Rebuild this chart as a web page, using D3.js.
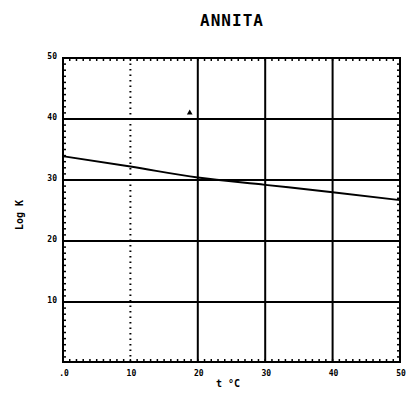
<!DOCTYPE html>
<html>
<head>
<meta charset="utf-8">
<script src="https://cdn.jsdelivr.net/npm/d3@7"></script>
<style>
  html, body { margin: 0; padding: 0; background: #fff; }
  svg { display: block; }
  text { font-family: "DejaVu Sans Mono", monospace; fill: #000; }
</style>
</head>
<body>
<svg id="chart" width="406" height="401"></svg>
<script>
// log K of annite versus temperature
const temperature = [0, 10, 20, 30, 40, 50];
const logK = [33.9, 32.2, 30.4, 29.2, 28.0, 26.7];
const markT = [18.8];
const markLogK = [41.0];
const xTicks = [0, 10, 20, 30, 40, 50];
const yTicks = [10, 20, 30, 40, 50];
const xTickLabels = [".0", "10", "20", "30", "40", "50"];

const svg = d3.select("#chart");
const m = { left: 63, right: 400, top: 58, bottom: 362 };

const x = d3.scaleLinear().domain([0, 50]).range([m.left, m.right]);
const y = d3.scaleLinear().domain([0, 50]).range([m.bottom + 1, m.top]);

// title
svg.append("text").attr("x", 232).attr("y", 26)
  .attr("text-anchor", "middle").attr("font-size", 16).attr("font-weight", "bold")
  .attr("letter-spacing", 1).text("ANNITA");

// grid
const g = svg.append("g").attr("stroke", "#000").attr("stroke-width", 2);
g.selectAll("line.v").data(xTicks.slice(1, -1)).join("line")
  .attr("x1", d => x(d)).attr("x2", d => x(d))
  .attr("y1", m.top).attr("y2", m.bottom)
  .attr("stroke-dasharray", d => d === 10 ? "1.5,4" : null);
g.selectAll("line.h").data(yTicks.slice(0, -1)).join("line")
  .attr("x1", m.left).attr("x2", m.right)
  .attr("y1", d => y(d)).attr("y2", d => y(d));

// frame
g.append("rect").attr("x", m.left).attr("y", m.top)
  .attr("width", m.right - m.left).attr("height", m.bottom - m.top)
  .attr("fill", "none");

// minor ticks along the frame
const minor = d3.range(1, 50);
const tk = svg.append("g").attr("stroke", "#000").attr("stroke-width", 1.5);
tk.selectAll("line.l").data(minor).join("line")
  .attr("x1", m.left).attr("x2", m.left + 3)
  .attr("y1", d => y(d)).attr("y2", d => y(d));
tk.selectAll("line.r").data(minor).join("line")
  .attr("x1", m.right).attr("x2", m.right - 3)
  .attr("y1", d => y(d)).attr("y2", d => y(d));
tk.selectAll("line.t").data(minor).join("line")
  .attr("x1", d => x(d)).attr("x2", d => x(d))
  .attr("y1", m.top).attr("y2", m.top + 3);
tk.selectAll("line.b").data(minor).join("line")
  .attr("x1", d => x(d)).attr("x2", d => x(d))
  .attr("y1", m.bottom).attr("y2", m.bottom - 3);

// axis labels
svg.append("g").selectAll("text").data(yTicks).join("text")
  .attr("x", m.left - 6).attr("y", d => y(d) + 1)
  .attr("text-anchor", "end").attr("font-size", 8).attr("font-weight", "bold")
  .text(d => d);
svg.append("g").selectAll("text").data(xTicks).join("text")
  .attr("x", d => x(d) + 1).attr("y", m.bottom + 14)
  .attr("text-anchor", "middle").attr("font-size", 8).attr("font-weight", "bold")
  .text((d, i) => xTickLabels[i]);

svg.append("text").attr("transform", "translate(23,215) rotate(-90)")
  .attr("text-anchor", "middle").attr("font-size", 10).attr("font-weight", "bold")
  .text("Log K");
svg.append("text").attr("x", 228).attr("y", 387)
  .attr("text-anchor", "middle").attr("font-size", 10).attr("font-weight", "bold")
  .text("t °C");

// curve
const line = d3.line().x((d, i) => x(temperature[i])).y(d => y(d)).curve(d3.curveMonotoneX);
svg.append("path").datum(logK).attr("d", line)
  .attr("fill", "none").attr("stroke", "#000").attr("stroke-width", 2);

// small marker
svg.append("g").selectAll("path").data(markT).join("path")
  .attr("d", d3.symbol().type(d3.symbolTriangle).size(14))
  .attr("transform", (d, i) => `translate(${x(d)},${y(markLogK[i])})`)
  .attr("fill", "#000");
</script>
</body>
</html>
